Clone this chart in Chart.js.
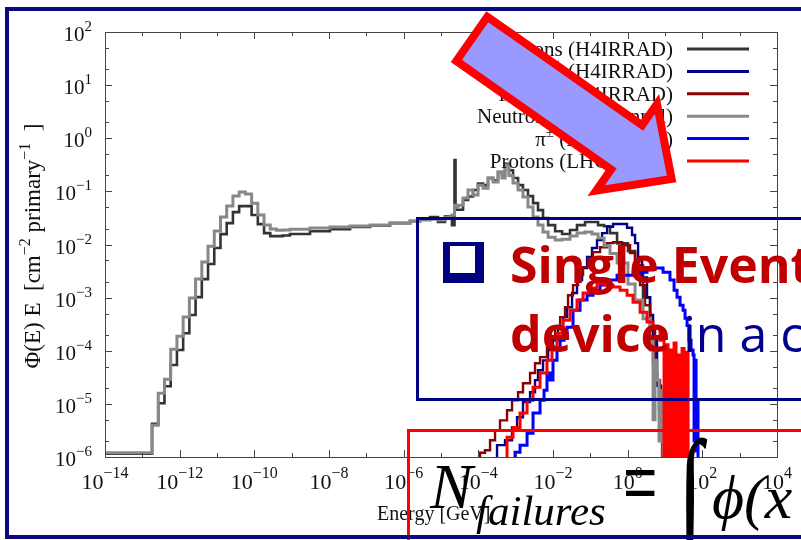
<!DOCTYPE html>
<html>
<head>
<meta charset="utf-8">
<script src="https://cdn.jsdelivr.net/npm/chart.js@4.4.1/dist/chart.umd.min.js"></script>
<style>
  html, body { margin: 0; padding: 0; background: #fff; }
  body { width: 801px; height: 540px; overflow: hidden; position: relative; }
  #c { position: absolute; left: 0; top: 0; }
  #overlay { position: absolute; left: 0; top: 0; }
</style>
</head>
<body>
<canvas id="c" width="801" height="540"></canvas>
<svg id="overlay" width="801" height="540" xmlns="http://www.w3.org/2000/svg">
  <!-- text boxes of the slide -->
  <rect x="417.5" y="218.5" width="500" height="181" fill="none" stroke="#000080" stroke-width="3"/>
  <rect x="408.5" y="430.5" width="500" height="200" fill="none" stroke="#ff0000" stroke-width="3"/>
  <rect x="443" y="242" width="41" height="41" fill="#000080"/>
  <rect x="450" y="246" width="25" height="27" fill="#fff"/>
  <text x="510" y="283" font-family="Open Sans" font-weight="700" font-size="50" fill="#c00000">Single Event</text>
  <text x="510" y="352" font-family="Open Sans" font-weight="700" font-size="50" fill="#c00000">device<tspan font-weight="400" fill="#000090"> in a c</tspan></text>
  <!-- formula -->
  <g font-family="Liberation Serif" fill="#000">
    <text x="430" y="508" font-size="64" font-style="italic">N</text>
    <text x="476" y="525" font-size="43" font-style="italic">failures</text>
    <text x="623" y="507" font-size="61" transform="translate(0,491) scale(1,1.7) translate(0,-491)">=</text>
    <text x="678" y="534" font-size="90" font-style="italic" transform="translate(0,534) scale(1,1.5) translate(0,-534)">∫</text>
    <text x="712" y="518" font-size="62" font-style="italic">ϕ(x</text>
  </g>
  <!-- arrow -->
  <polygon points="487.3,16.7 642.1,125.2 657.0,103.9 671.6,178.9 596.2,190.7 611.1,169.4 456.3,60.9"
           fill="#9999ff" stroke="#ff0000" stroke-width="8" stroke-linejoin="miter"/>
  <!-- slide frame -->
  <rect x="7" y="9" width="830" height="528" fill="none" stroke="#0a0a80" stroke-width="4"/>
</svg>
<script>
// tick labels (powers of ten)
const xTickExps = [-14, -12, -10, -8, -6, -4, -2, 0, 2, 4];
const yTickExps = [-6, -5, -4, -3, -2, -1, 0, 1, 2];

const seriesLabels = [
    'Neutrons (H4IRRAD)', 'π± (H4IRRAD)', 'Protons (H4IRRAD)',
    'Neutrons (LHC tunnel)', 'π± (LHC tunnel)', 'Protons (LHC tunnel)'
];

// neutrons, both locations share the same energy bins [GeV]
const neutronEnergy = [
    1e-14, 1.82e-13, 2.67e-13, 3.92e-13, 5.75e-13, 8.45e-13, 1.24e-12, 1.82e-12, 2.67e-12, 3.92e-12,
    5.75e-12, 8.45e-12, 1.24e-11, 1.82e-11, 2.67e-11, 3.92e-11, 5.75e-11, 8.45e-11, 1.24e-10, 1.82e-10,
    2.67e-10, 3.92e-10, 5.75e-10, 9e-10, 3.1e-9, 1.06e-8, 3.66e-8, 1.26e-7, 4.3e-7, 1.48e-6,
    2.74e-6, 5.08e-6, 8.3e-6, 1.28e-5, 1.97e-5, 2.3e-5, 2.45e-5, 2.86e-5, 3.89e-5, 5.3e-5,
    7.2e-5, 9.8e-5, 1.34e-4, 1.82e-4, 2.48e-4, 3.37e-4, 4.31e-4, 5.19e-4, 6.6e-4, 8.5e-4,
    1.16e-3, 1.57e-3, 2.14e-3, 2.92e-3, 3.97e-3, 5.4e-3, 7.4e-3, 0.0114, 0.0175, 0.0286,
    0.044, 0.0721, 0.111, 0.161, 0.233, 0.337, 0.52, 1.02, 1.58, 2.58,
    3.98, 4.79, 5.41, 6.12, 6.92, 7.83, 8.87, 10
];
const neutronH4 = [
    1.15e-6, 4.2e-6, 1.03e-5, 2.15e-5, 5.4e-5, 1.03e-4, 2.14e-4, 4.7e-4, 1.02e-3, 2.23e-3,
    4.3e-3, 8.6e-3, 0.0157, 0.0253, 0.0407, 0.0528, 0.0528, 0.0358, 0.0242, 0.0164,
    0.0144, 0.0144, 0.0148, 0.0158, 0.0178, 0.0194, 0.0213, 0.0228, 0.0253, 0.0276,
    0.0305, 0.0328, 0.0266, 0.034, 0.0232, 0.388, 0.045, 0.045, 0.0686, 0.08,
    0.106, 0.14, 0.131, 0.178, 0.16, 0.231, 0.2, 0.33, 0.25, 0.178,
    0.131, 0.106, 0.0815, 0.06, 0.0443, 0.0314, 0.0232, 0.0178, 0.0158, 0.0187,
    0.0232, 0.0266, 0.0266, 0.0232, 0.022, 0.0164, 0.0105, 0.0075, 0.004, 0.001,
    1.03e-4, 6e-5, 4e-5, 2.45e-5, 8e-6, 3e-6, 1e-9, 1e-9
];
const neutronLHC = [
    1.2e-6, 3.97e-6, 1.59e-5, 2.92e-5, 1.07e-4, 1.88e-4, 4.3e-4, 9.8e-4, 2.23e-3, 4.66e-3,
    9.3e-3, 0.0179, 0.0328, 0.0528, 0.0815, 0.097, 0.089, 0.060, 0.0358, 0.0232,
    0.0195, 0.0186, 0.0188, 0.0194, 0.0204, 0.0213, 0.0222, 0.0232, 0.0253, 0.0276,
    0.0288, 0.030, 0.029, 0.0328, 0.0358, 0.055, 0.05, 0.055, 0.075, 0.106,
    0.085, 0.131, 0.115, 0.178, 0.15, 0.231, 0.178, 0.313, 0.2, 0.143,
    0.106, 0.078, 0.0506, 0.0328, 0.0232, 0.0171, 0.0137, 0.0121, 0.0126, 0.0144,
    0.0164, 0.0171, 0.0158, 0.0132, 0.0095, 0.0068, 0.0045, 0.0018, 9e-4, 4e-4,
    1.6e-4, 5e-6, 6.6e-5, 2.8e-5, 2e-6, 1.8e-5, 1e-9, 1e-9
];

// charged pions
const pionH4Energy = [
    2.8e-4, 3.17e-4, 5.19e-4, 8.0e-4, 1.09e-3, 1.57e-3, 2.43e-3, 3.3e-3, 3.97e-3, 5.4e-3,
    7.4e-3, 0.01, 0.0136, 0.0186, 0.0238, 0.0324, 0.044, 0.06, 0.0817, 0.111,
    0.151, 0.206, 0.281, 0.406, 0.625, 0.962, 1.31, 1.58, 1.9, 2.43,
    3.3, 3.98, 4.79, 6.12, 7.83, 8.87
];
const pionH4 = [
    1e-9, 1.67e-6, 2.07e-6, 3.6e-6, 5.6e-6, 1.08e-5, 1.66e-5, 2.8e-5, 4.3e-5, 6.6e-5,
    1.03e-4, 1.58e-4, 2.67e-4, 4.3e-4, 6.6e-4, 1.22e-3, 2.14e-3, 3.6e-3, 5.8e-3, 8.6e-3,
    0.0121, 0.0164, 0.0216, 0.0243, 0.0243, 0.0207, 0.0151, 0.0106, 5.8e-3, 2.4e-3,
    1.02e-3, 4.7e-4, 1.58e-4, 2.2e-5, 5e-6, 1e-9
];
const pionLHCEnergy = [
    8.5e-4, 9.6e-4, 1.31e-3, 2.02e-3, 2.92e-3, 4.5e-3, 5.75e-3, 6.9e-3, 8.3e-3, 0.01,
    0.0128, 0.0155, 0.0198, 0.0238, 0.0344, 0.053, 0.0817, 0.118, 0.182, 0.281,
    0.52, 1.39, 3.3, 4.79, 8.87, 13.6, 17.5, 21, 25.3, 30.5,
    34.4, 39, 44, 49.9, 56.4, 60, 63.8, 67.9, 72.1, 76.7
];
const pionLHC = [
    1e-9, 1.23e-6, 1.67e-6, 2.8e-6, 6.7e-6, 1.17e-5, 1.8e-5, 3.8e-5, 2.8e-5, 6.6e-5,
    1.03e-4, 1.58e-4, 2.14e-4, 2.78e-4, 5.8e-4, 9e-4, 1.11e-3, 1.38e-3, 1.72e-3, 2.14e-3,
    2.65e-3, 3.0e-3, 3.3e-3, 3.6e-3, 3.0e-3, 2.14e-3, 1.38e-3, 1.02e-3, 7.2e-4, 5.8e-4,
    4.1e-4, 3.0e-4, 1.58e-4, 1.03e-4, 8.3e-5, 2e-6, 6.6e-5, 1.3e-6, 1.17e-5, 1e-9
];

// protons
const protonH4Energy = [
    9.8e-5, 1.11e-4, 1.51e-4, 2.06e-4, 2.8e-4, 3.81e-4, 5.87e-4, 8.0e-4, 1.16e-3, 1.57e-3,
    2.43e-3, 3.3e-3, 4.5e-3, 6.9e-3, 9.4e-3, 0.0114, 0.0155, 0.021, 0.0253, 0.0344,
    0.0469, 0.0638, 0.0869, 0.118, 0.182, 0.281, 0.406, 0.708, 1.16, 1.58,
    2.15, 2.92, 3.98, 5.41, 7.36, 8.34
];
const protonH4 = [
    1e-9, 1.2e-6, 1.34e-6, 2.07e-6, 3.2e-6, 4.9e-6, 7.6e-6, 1.17e-5, 1.66e-5, 2.45e-5,
    3.8e-5, 5.8e-5, 7.6e-5, 1.17e-4, 1.8e-4, 2.78e-4, 4.3e-4, 6.6e-4, 1.11e-3, 1.72e-3,
    2.65e-3, 3.75e-3, 5.5e-3, 7.2e-3, 8.9e-3, 0.0106, 0.011, 0.0097, 6.9e-3, 4.1e-3,
    1.72e-3, 7.2e-4, 2.44e-4, 2.8e-5, 2.07e-6, 1e-9
];
const protonLHCEnergy = [
    5.19e-4, 5.87e-4, 8.5e-4, 1.31e-3, 2.02e-3, 2.92e-3, 4.5e-3, 6.9e-3, 9.4e-3, 0.0128,
    0.0186, 0.0286, 0.044, 0.0638, 0.098, 0.151, 0.248, 0.406, 0.625, 0.962,
    1.39, 2.15, 3.3, 4.79, 7.36, 9.44, 10.7, 12.1, 13.6, 15.4,
    17.5, 19.8, 22.4, 25.3, 28.6, 32.4, 36.6, 41.5, 44
];
const protonLHC = [
    1e-9, 2.36e-6, 3.6e-6, 6.7e-6, 1.17e-5, 2.06e-5, 3.8e-5, 6.6e-5, 1.17e-4, 2.14e-4,
    3.77e-4, 5.8e-4, 9e-4, 1.22e-3, 1.51e-3, 1.87e-3, 1.72e-3, 1.58e-3, 1.38e-3, 1.11e-3,
    8.2e-4, 5.3e-4, 3.46e-4, 2.67e-4, 1.58e-4, 1e-9, 1.3e-4, 1e-9, 1.03e-4, 1e-9,
    1.4e-4, 1e-9, 8.3e-5, 1e-9, 1.1e-4, 1e-9, 9.4e-5, 1e-9, 1e-9
];

const SERIF = '"Liberation Serif", "Times New Roman", serif';

// draw text made of pieces, some of them raised as exponents
function drawRich(ctx, segs, x, y, align, size, supSize, rise) {
    let w = 0;
    segs.forEach(s => {
        ctx.font = (s.sup ? supSize : size) + 'px ' + SERIF;
        s.w = ctx.measureText(s.t).width;
        w += s.w;
    });
    let cx = align === 'center' ? x - w / 2 : align === 'right' ? x - w : x;
    ctx.textAlign = 'left';
    segs.forEach(s => {
        ctx.font = (s.sup ? supSize : size) + 'px ' + SERIF;
        ctx.fillText(s.t, cx, s.sup ? y - rise : y);
        cx += s.w;
    });
}

function power(e) {
    return [{ t: '10' }, { t: String(e).replace('-', '\u2212'), sup: true }];
}

function labelSegs(label) {
    if (label.startsWith('π±')) {
        return [{ t: 'π' }, { t: '±', sup: true }, { t: label.slice(2) }];
    }
    return [{ t: label }];
}

// gnuplot-like frame, inward ticks, labels and key
const gnuplotFrame = {
    id: 'gnuplotFrame',
    afterDraw(chart) {
        const { ctx, chartArea: a } = chart;
        const xs = chart.scales.x, ys = chart.scales.y;
        ctx.save();
        ctx.strokeStyle = '#444';
        ctx.lineWidth = 1;
        ctx.strokeRect(a.left + 0.5, a.top + 0.5, a.right - a.left, a.bottom - a.top);

        const seg = (x1, y1, x2, y2) => {
            ctx.beginPath(); ctx.moveTo(x1, y1); ctx.lineTo(x2, y2); ctx.stroke();
        };
        // x ticks on every decade, longer where labelled
        for (let e = xTickExps[0]; e <= xTickExps[xTickExps.length - 1]; e++) {
            const px = Math.round(xs.getPixelForValue(Math.pow(10, e))) + 0.5;
            const len = xTickExps.includes(e) ? 7 : 4;
            seg(px, a.bottom, px, a.bottom - len);
            seg(px, a.top, px, a.top + len);
        }
        // y ticks at 1, 2, 5 of each decade
        yTickExps.forEach(e => {
            [1, 2, 5].forEach(m => {
                const v = m * Math.pow(10, e);
                if (v > ys.max) return;
                const py = Math.round(ys.getPixelForValue(v)) + 0.5;
                const len = m === 1 ? 7 : 4;
                seg(a.left, py, a.left + len, py);
                seg(a.right, py, a.right - len, py);
            });
        });

        ctx.fillStyle = '#111';
        ctx.textBaseline = 'alphabetic';
        xTickExps.forEach(e => {
            const px = xs.getPixelForValue(Math.pow(10, e));
            drawRich(ctx, power(e), px, 489, 'center', 22, 16, 11);
        });
        yTickExps.forEach(e => {
            const py = ys.getPixelForValue(Math.pow(10, e));
            drawRich(ctx, power(e), 92, py + 9, 'right', 21, 15, 10);
        });

        // axis titles
        drawRich(ctx, [{ t: 'Energy [GeV]' }], 377, 520, 'left', 20, 14, 9);
        ctx.save();
        ctx.translate(40, 246);
        ctx.rotate(-Math.PI / 2);
        drawRich(ctx, [{ t: 'Φ(E) E  [cm' }, { t: '\u22122', sup: true }, { t: ' primary' },
            { t: '\u22121', sup: true }, { t: '  ]' }], 0, 0, 'center', 23, 16, 10);
        ctx.restore();

        // key, top right
        chart.data.datasets.forEach((d, i) => {
            const cy = 49 + i * 22.4;
            ctx.fillStyle = '#111';
            drawRich(ctx, labelSegs(d.label), 673, cy + 7, 'right', 21, 15, 9);
            ctx.strokeStyle = d.borderColor;
            ctx.lineWidth = 3;
            seg(687, cy, 749, cy);
        });
        ctx.restore();
    }
};

function series(label, energy, flux, color, width, order) {
    return {
        label: label,
        data: energy.map((e, i) => ({ x: e, y: flux[i] })),
        borderColor: color,
        borderWidth: width,
        stepped: true,
        pointRadius: 0,
        fill: false,
        borderJoinStyle: 'miter',
        order: order
    };
}

new Chart(document.getElementById('c'), {
    type: 'line',
    data: {
        datasets: [
            series(seriesLabels[0], neutronEnergy, neutronH4, '#333333', 2.6, 5),
            series(seriesLabels[1], pionH4Energy, pionH4, '#00008b', 2.4, 4),
            series(seriesLabels[2], protonH4Energy, protonH4, '#8b0000', 2.4, 3),
            series(seriesLabels[3], neutronEnergy, neutronLHC, '#888888', 3, 2),
            series(seriesLabels[4], pionLHCEnergy, pionLHC, '#0000ff', 3, 1),
            series(seriesLabels[5], protonLHCEnergy, protonLHC, '#ff0000', 3, 0)
        ]
    },
    options: {
        responsive: false,
        animation: false,
        devicePixelRatio: 1,
        layout: { padding: { left: 105, top: 32, right: 24, bottom: 83 } },
        plugins: { legend: { display: false }, tooltip: { enabled: false } },
        scales: {
            x: { type: 'logarithmic', min: 1e-14, max: 1e4, display: false },
            y: { type: 'logarithmic', min: 1e-6, max: 100, display: false }
        }
    },
    plugins: [gnuplotFrame]
});
</script>
</body>
</html>
